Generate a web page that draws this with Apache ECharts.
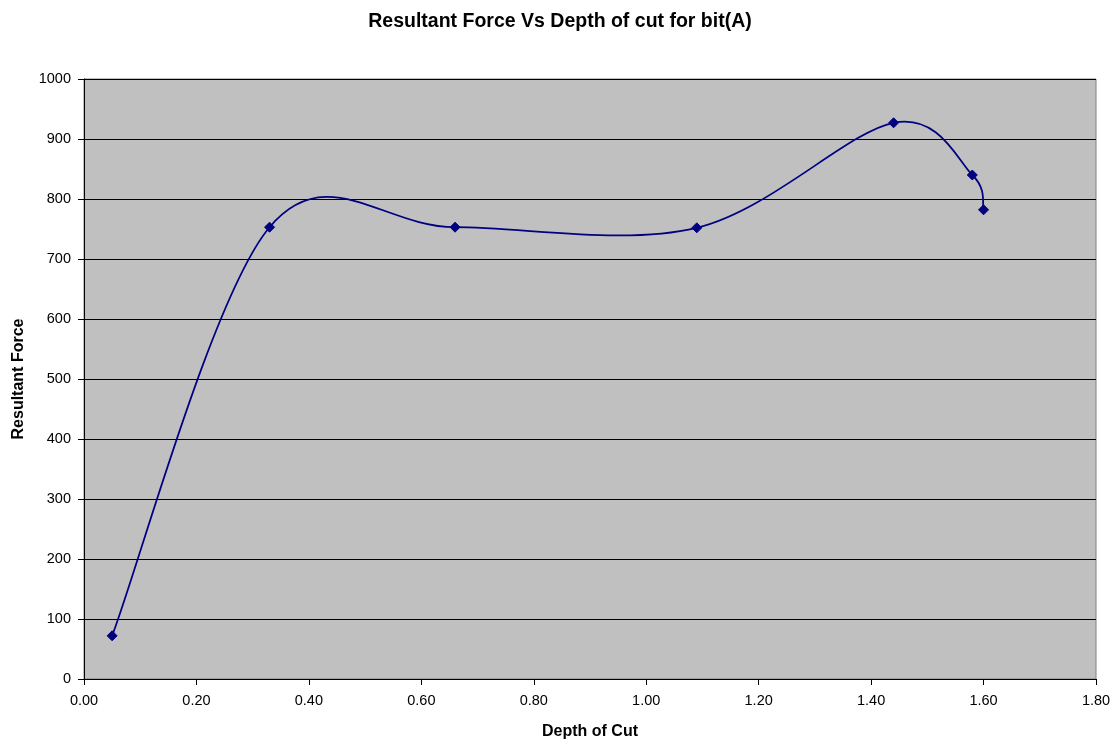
<!DOCTYPE html>
<html><head><meta charset="utf-8">
<script src="https://cdn.jsdelivr.net/npm/echarts@6/dist/echarts.min.js"></script>
<style>html,body{margin:0;padding:0;background:#fff}#c{width:1120px;height:748px}</style>
</head><body><div id="c"></div>
<script>
const depthOfCut = [0.05, 0.33, 0.66, 1.09, 1.44, 1.58, 1.60];
const resultantForce = [72, 753, 753, 752, 927, 840, 782];
const titleText = 'Resultant Force Vs Depth of cut for bit(A)';
const xName = 'Depth of Cut';
const yName = 'Resultant Force';

const points = depthOfCut.map((x, i) => [x, resultantForce[i]]);
const font = 'Liberation Sans, Arial, sans-serif';
const lineColor = '#000080';

// Excel-style smoothed line: cubic Bezier segments (Catmull-Rom, tension 1/6)
// computed in pixel space from the data points via the chart's own scales.
function renderSegment(params, api) {
  const i = params.dataIndex;
  const n = points.length;
  if (i >= n - 1) return null;
  const P = k => api.coord(points[Math.max(0, Math.min(n - 1, k))]);
  const p0 = P(i - 1), p1 = P(i), p2 = P(i + 1), p3 = P(i + 2);
  return {
    type: 'bezierCurve',
    shape: {
      x1: p1[0], y1: p1[1], x2: p2[0], y2: p2[1],
      cpx1: p1[0] + (p2[0] - p0[0]) / 6, cpy1: p1[1] + (p2[1] - p0[1]) / 6,
      cpx2: p2[0] - (p3[0] - p1[0]) / 6, cpy2: p2[1] - (p3[1] - p1[1]) / 6
    },
    style: {stroke: lineColor, lineWidth: 1.75, fill: null}
  };
}

const chart = echarts.init(document.getElementById('c'), null, {renderer: 'canvas'});
chart.setOption({
  animation: false,
  backgroundColor: '#ffffff',
  title: {text: titleText, left: 'center', top: 7,
    textStyle: {fontFamily: font, fontSize: 19.5, fontWeight: 'bold', color: '#000'}},
  grid: {left: 84, right: 24, top: 79, bottom: 69, show: true,
    backgroundColor: '#c0c0c0', borderColor: '#808080', borderWidth: 1},
  xAxis: {type: 'value', min: 0, max: 1.8, interval: 0.2,
    name: xName, nameLocation: 'middle', nameGap: 45,
    nameTextStyle: {fontFamily: font, fontSize: 16, fontWeight: 'bold', color: '#000'},
    axisLine: {show: true, onZero: false, lineStyle: {color: '#000', width: 1}},
    axisTick: {show: true, inside: false, length: 6, lineStyle: {color: '#000'}},
    axisLabel: {fontFamily: font, fontSize: 14.5, color: '#000', margin: 14,
      formatter: v => v.toFixed(2)},
    splitLine: {show: false}},
  yAxis: {type: 'value', min: 0, max: 1000, interval: 100,
    name: yName, nameLocation: 'middle', nameGap: 57, nameRotate: 90,
    nameTextStyle: {fontFamily: font, fontSize: 16, fontWeight: 'bold', color: '#000'},
    axisLine: {show: true, lineStyle: {color: '#000', width: 1}},
    axisTick: {show: true, inside: false, length: 6, lineStyle: {color: '#000'}},
    axisLabel: {fontFamily: font, fontSize: 14.5, color: '#000', margin: 13,
      formatter: v => String(v)},
    splitLine: {show: true, lineStyle: {color: '#000', width: 1}}},
  series: [
    {type: 'custom', data: points, renderItem: renderSegment, silent: true, clip: false},
    {type: 'scatter', data: points, symbol: 'diamond', symbolSize: 10,
      itemStyle: {color: lineColor, borderColor: lineColor, opacity: 1}}
  ]
});
</script></body></html>
